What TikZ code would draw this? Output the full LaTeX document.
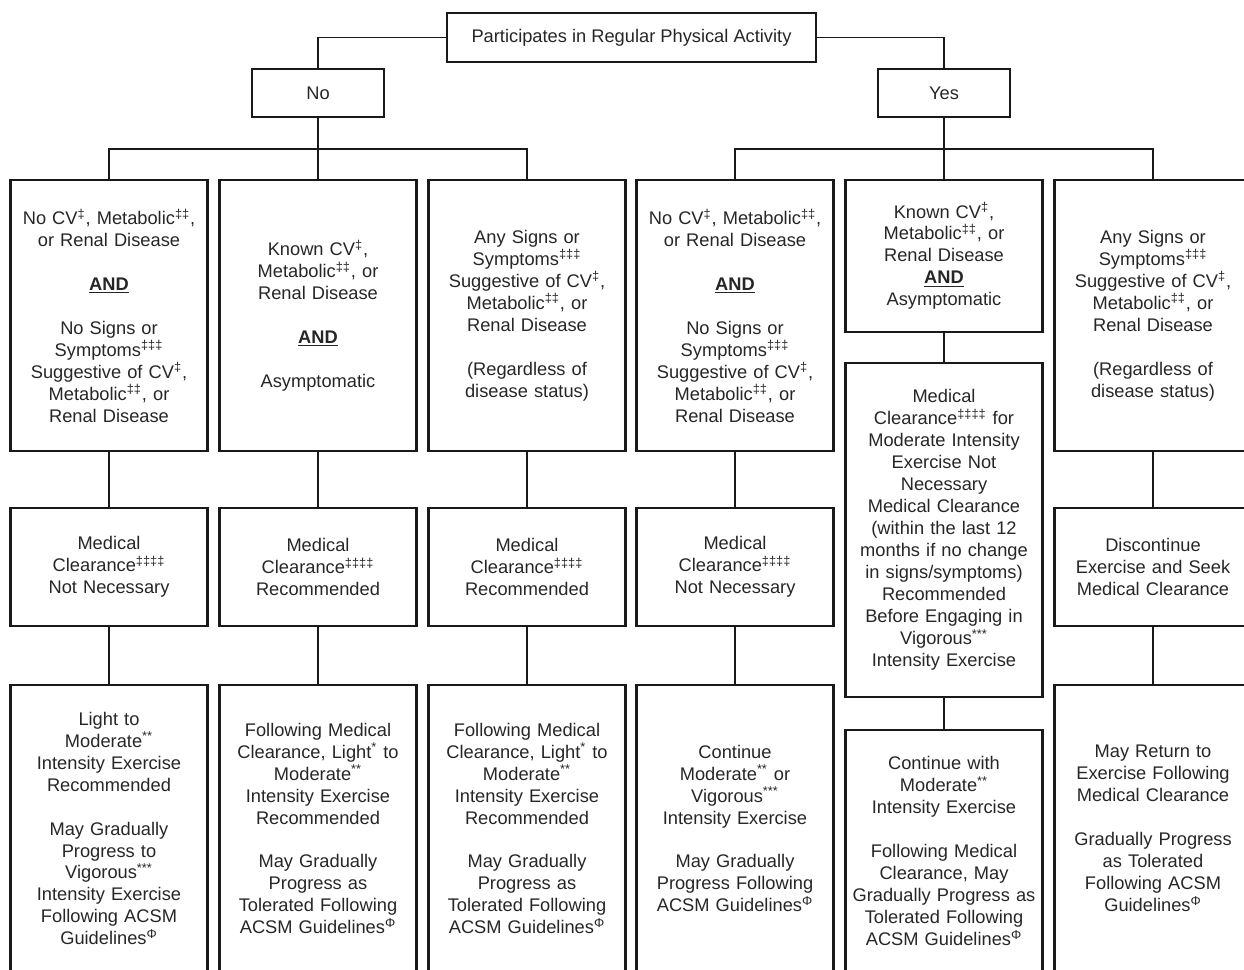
\documentclass[tikz,border=0pt]{standalone}
\usepackage{fontspec}
\setmainfont{Liberation Sans}
\usepackage{tikz}

\newcommand{\cvm}{\textsuperscript{‡}}
\newcommand{\metm}{\textsuperscript{‡‡}}
\newcommand{\symm}{\textsuperscript{‡‡‡}}
\newcommand{\clrm}{\textsuperscript{‡‡‡‡}}
\newcommand{\lgtm}{\textsuperscript{*}}
\newcommand{\modm}{\textsuperscript{**}}
\newcommand{\vigm}{\textsuperscript{***}}
\newcommand{\phim}{\textsuperscript{Φ}}
\newcommand{\andm}{\textbf{\underline{AND}}}

\tikzset{
  box/.style={draw=black!90, line width=1.3pt, rectangle, inner sep=0pt, align=center, text=black!85},
  colbox/.style={box, minimum width=3.94cm, text width=3.9cm},
  link/.style={draw=black!90, line width=0.9pt},
}

\begin{document}
\begin{tikzpicture}[x=0.02cm, y=-0.02cm, font=\fontsize{10.4}{12.5}\selectfont]
          \useasboundingbox (0,0) rectangle (1244,970);
          \clip (0,0) rectangle (1244,970);
          \node[box, minimum width=7.38cm, minimum height=0.98cm] (top) at (631.5,37.5) {Participates in Regular Physical Activity};
          \node[box, minimum width=2.64cm, minimum height=0.96cm] (no) at (318,93) {No};
          \node[box, minimum width=2.64cm, minimum height=0.96cm] (yes) at (944,93) {Yes};
          \coordinate (nj) at (318,149);
          \coordinate (yj) at (944,149);

          \node[colbox, minimum height=5.42cm] (c1) at (109,315.5) {No CV\cvm, Metabolic\metm,\\or Renal Disease\\[12.5pt]\andm\\[12.5pt]No Signs or\\Symptoms\symm\\Suggestive of CV\cvm,\\Metabolic\metm, or\\Renal Disease};
          \node[colbox, minimum height=5.42cm] (c2) at (318,315.5) {Known CV\cvm,\\Metabolic\metm, or\\Renal Disease\\[12.5pt]\andm\\[12.5pt]Asymptomatic};
          \node[colbox, minimum height=5.42cm] (c3) at (527,315.5) {Any Signs or\\Symptoms\symm\\Suggestive of CV\cvm,\\Metabolic\metm, or\\Renal Disease\\[12.5pt](Regardless of\\disease status)};
          \node[colbox, minimum height=5.42cm] (c4) at (735,315.5) {No CV\cvm, Metabolic\metm,\\or Renal Disease\\[12.5pt]\andm\\[12.5pt]No Signs or\\Symptoms\symm\\Suggestive of CV\cvm,\\Metabolic\metm, or\\Renal Disease};
          \node[colbox, minimum height=3.04cm] (c5) at (944,256) {Known CV\cvm,\\Metabolic\metm, or\\Renal Disease\\\andm\\Asymptomatic};
          \node[colbox, minimum height=5.42cm] (c6) at (1153,315.5) {Any Signs or\\Symptoms\symm\\Suggestive of CV\cvm,\\Metabolic\metm, or\\Renal Disease\\[12.5pt](Regardless of\\disease status)};

          \node[colbox, minimum height=2.36cm] (m1) at (109,567) {Medical\\Clearance\clrm\\Not Necessary};
          \node[colbox, minimum height=2.36cm] (m2) at (318,567) {Medical\\Clearance\clrm\\Recommended};
          \node[colbox, minimum height=2.36cm] (m3) at (527,567) {Medical\\Clearance\clrm\\Recommended};
          \node[colbox, minimum height=2.36cm] (m4) at (735,567) {Medical\\Clearance\clrm\\Not Necessary};
          \node[colbox, minimum height=6.68cm] (m5) at (944,530) {Medical\\Clearance\clrm{} for\\Moderate Intensity\\Exercise Not\\Necessary\\Medical Clearance\\(within the last 12\\months if no change\\in signs/symptoms)\\Recommended\\Before Engaging in\\Vigorous\vigm\\Intensity Exercise};
          \node[colbox, minimum height=2.36cm] (m6) at (1153,567) {Discontinue\\Exercise and Seek\\Medical Clearance};

          \node[colbox, minimum height=5.74cm] (b1) at (109,828.5) {Light to\\Moderate\modm\\Intensity Exercise\\Recommended\\[12.5pt]May Gradually\\Progress to\\Vigorous\vigm\\Intensity Exercise\\Following ACSM\\Guidelines\phim};
          \node[colbox, minimum height=5.74cm] (b2) at (318,828.5) {Following Medical\\Clearance, Light\lgtm{} to\\Moderate\modm\\Intensity Exercise\\Recommended\\[12.5pt]May Gradually\\Progress as\\Tolerated Following\\ACSM Guidelines\phim};
          \node[colbox, minimum height=5.74cm] (b3) at (527,828.5) {Following Medical\\Clearance, Light\lgtm{} to\\Moderate\modm\\Intensity Exercise\\Recommended\\[12.5pt]May Gradually\\Progress as\\Tolerated Following\\ACSM Guidelines\phim};
          \node[colbox, minimum height=5.74cm] (b4) at (735,828.5) {Continue\\Moderate\modm{} or\\Vigorous\vigm\\Intensity Exercise\\[12.5pt]May Gradually\\Progress Following\\ACSM Guidelines\phim};
          \node[colbox, minimum height=4.84cm] (b5) at (944,851) {Continue with\\Moderate\modm\\Intensity Exercise\\[12.5pt]Following Medical\\Clearance, May\\Gradually Progress as\\Tolerated Following\\ACSM Guidelines\phim};
          \node[colbox, minimum height=5.74cm] (b6) at (1153,828.5) {May Return to\\Exercise Following\\Medical Clearance\\[12.5pt]Gradually Progress\\as Tolerated\\Following ACSM\\Guidelines\phim};

          \draw[link] (top.west) -| (no.north);
          \draw[link] (top.east) -| (yes.north);
          \draw[link] (no.south) -- (nj);
          \draw[link] (yes.south) -- (yj);
          \draw[link] (nj) -| (c1.north);
          \draw[link] (nj) -- (c2.north);
          \draw[link] (nj) -| (c3.north);
          \draw[link] (yj) -| (c4.north);
          \draw[link] (yj) -- (c5.north);
          \draw[link] (yj) -| (c6.north);
          \draw[link] (c1.south) -- (m1.north);
          \draw[link] (c2.south) -- (m2.north);
          \draw[link] (c3.south) -- (m3.north);
          \draw[link] (c4.south) -- (m4.north);
          \draw[link] (c5.south) -- (m5.north);
          \draw[link] (c6.south) -- (m6.north);
          \draw[link] (m1.south) -- (b1.north);
          \draw[link] (m2.south) -- (b2.north);
          \draw[link] (m3.south) -- (b3.north);
          \draw[link] (m4.south) -- (b4.north);
          \draw[link] (m5.south) -- (b5.north);
          \draw[link] (m6.south) -- (b6.north);
        \end{tikzpicture}
\end{document}
